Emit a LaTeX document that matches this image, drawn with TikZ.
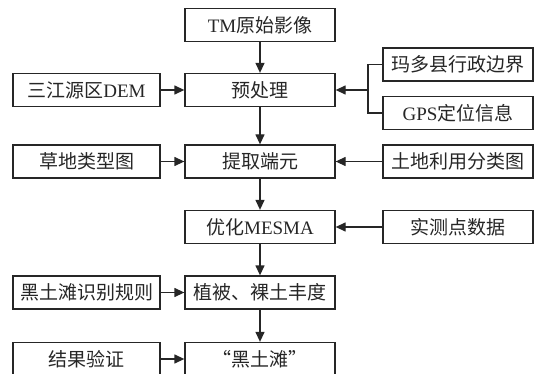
\documentclass[tikz,border=0pt]{standalone}
\usepackage{fontspec}
\setmainfont{Liberation Serif}
\newfontfamily\cjk{Noto Sans CJK SC}
\usetikzlibrary{arrows.meta}
\begin{document}
\begin{tikzpicture}[x=1pt,y=-1pt,
  box/.style={draw=black!85, line width=1.3pt, minimum height=33pt, inner sep=0pt,
    font=\fontsize{19}{21}\selectfont, text=black!85},
  cbox/.style={box, minimum width=150pt},
  lbox/.style={box, minimum width=147pt},
  rbox/.style={box, minimum width=150pt},
  arr/.style={line width=1.3pt, draw=black!85, -{Triangle[length=10pt,width=9pt]}},
  ln/.style={line width=1.3pt, draw=black!85}]
\useasboundingbox (0,0) rectangle (543,374);
% centre column
\node[cbox] (tm)  at (260,25)    {TM{\cjk 原始影像}};
\node[cbox] (pre) at (260,90)    {\cjk 预处理};
\node[cbox] (ext) at (260,161.5) {\cjk 提取端元};
\node[cbox] (mes) at (260,227)   {{\cjk 优化}MESMA};
\node[cbox] (abu) at (260,292.5) {\cjk 植被、裸土丰度};
\node[cbox] (hts) at (260,359)   {\cjk “黑土滩”};
% left column
\node[lbox] (dem) at (86.5,90)    {{\cjk 三江源区}DEM};
\node[lbox] (grs) at (86.5,161.5) {\cjk 草地类型图};
\node[lbox] (rul) at (86.5,292.5) {\cjk 黑土滩识别规则};
\node[lbox] (ver) at (86.5,359)   {\cjk 结果验证};
% right column
\node[rbox] (mdo) at (458,64.5)  {\cjk 玛多县行政边界};
\node[rbox] (gps) at (458,113)   {GPS{\cjk 定位信息}};
\node[rbox] (lu)  at (458,161.5) {\cjk 土地利用分类图};
\node[rbox] (fld) at (458,227)   {\cjk 实测点数据};
% vertical arrows
\draw[arr] (tm) -- (pre);
\draw[arr] (pre) -- (ext);
\draw[arr] (ext) -- (mes);
\draw[arr] (mes) -- (abu);
\draw[arr] (abu) -- (hts);
% left arrows
\draw[arr] (dem) -- (pre);
\draw[arr] (grs) -- (ext);
\draw[arr] (rul) -- (abu);
\draw[arr] (ver) -- (hts);
% right arrows
\coordinate (j) at (368,90);
\draw[ln] (mdo.west) -| (j) |- (gps.west);
\draw[arr] (j) -- (pre.east);
\draw[arr] (lu) -- (ext);
\draw[arr] (fld) -- (mes);
\end{tikzpicture}
\end{document}
